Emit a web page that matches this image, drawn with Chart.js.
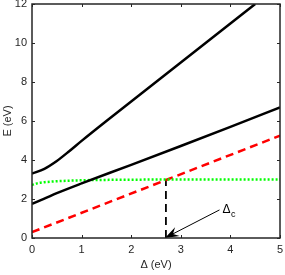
<!DOCTYPE html>
<html>
<head>
<meta charset="utf-8">
<script src="https://cdn.jsdelivr.net/npm/chart.js@4"></script>
<style>
  html, body { margin: 0; padding: 0; background: #fff; }
  #wrap { width: 285px; height: 275px; }
</style>
</head>
<body>
<div id="wrap"><canvas id="myChart"></canvas></div>
<script>
// datos
var deltaUpper = [0, 0.25, 0.5, 0.75, 1, 1.5, 2, 2.5, 3, 3.5, 4, 4.5];
var eUpper     = [3.3, 3.55, 3.95, 4.45, 4.98, 6.0, 7.0, 8.0, 9.0, 10.0, 11.0, 12.0];

var deltaLower = [0, 0.25, 0.5, 1, 2, 3, 4, 5];
var eLower     = [1.75, 2.02, 2.3, 2.8, 3.75, 4.72, 5.7, 6.7];

var deltaGreen = [0, 0.1, 0.25, 0.5, 0.75, 1, 1.5, 2, 3, 4, 5];
var eGreen     = [2.72, 2.8, 2.86, 2.91, 2.94, 2.96, 2.98, 2.99, 3.0, 3.0, 3.0];

var deltaRed = [0, 5];
var eRed     = [0.3, 5.25];

var deltaC = 2.7;
var eCross = 3.0;

var arrowFrom = [3.78, 1.44];
var arrowTo   = [2.68, 0.0];
var labelPos  = [3.84, 1.45];

var xTicks = [0, 1, 2, 3, 4, 5];
var yTicks = [0, 2, 4, 6, 8, 10, 12];

function puntos(xs, ys){
  return xs.map(function(x, i){ return {x: x, y: ys[i]}; });
}

var fuente = '"Liberation Sans", Arial, sans-serif';

var marco = {
  id: 'marco',
  afterDatasetsDraw: function(chart){
    var ctx = chart.ctx;
    var a = chart.chartArea;
    var xs = chart.scales.x, ys = chart.scales.y;
    ctx.save();
    // flecha
    var x1 = xs.getPixelForValue(arrowFrom[0]), y1 = ys.getPixelForValue(arrowFrom[1]);
    var x2 = xs.getPixelForValue(arrowTo[0]), y2 = ys.getPixelForValue(arrowTo[1]);
    var ang = Math.atan2(y2 - y1, x2 - x1);
    var c = Math.cos(ang), s = Math.sin(ang);
    ctx.strokeStyle = '#000';
    ctx.fillStyle = '#000';
    ctx.lineWidth = 1;
    ctx.beginPath();
    ctx.moveTo(x1, y1);
    ctx.lineTo(x2 - 9 * c, y2 - 9 * s);
    ctx.stroke();
    ctx.beginPath();
    ctx.moveTo(x2, y2);
    ctx.lineTo(x2 - 14 * c + 5 * s, y2 - 14 * s - 5 * c);
    ctx.lineTo(x2 - 9 * c, y2 - 9 * s);
    ctx.lineTo(x2 - 14 * c - 5 * s, y2 - 14 * s + 5 * c);
    ctx.closePath();
    ctx.fill();
    // etiqueta
    var lx = xs.getPixelForValue(labelPos[0]), ly = ys.getPixelForValue(labelPos[1]);
    ctx.textBaseline = 'middle';
    ctx.textAlign = 'left';
    ctx.font = '12px ' + fuente;
    ctx.fillText('\u0394', lx, ly);
    var w = ctx.measureText('\u0394').width;
    ctx.font = '9px ' + fuente;
    ctx.fillText('c', lx + w + 0.5, ly + 5);
    // caja
    ctx.strokeStyle = '#262626';
    ctx.lineWidth = 1.5;
    ctx.strokeRect(a.left, a.top, a.right - a.left, a.bottom - a.top);
    ctx.lineWidth = 1;
    xTicks.forEach(function(t){
      var px = Math.round(xs.getPixelForValue(t)) + 0.5;
      ctx.beginPath();
      ctx.moveTo(px, a.bottom); ctx.lineTo(px, a.bottom - 3);
      ctx.moveTo(px, a.top); ctx.lineTo(px, a.top + 3);
      ctx.stroke();
    });
    yTicks.forEach(function(t){
      var py = Math.round(ys.getPixelForValue(t)) + 0.5;
      ctx.beginPath();
      ctx.moveTo(a.left, py); ctx.lineTo(a.left + 3, py);
      ctx.moveTo(a.right, py); ctx.lineTo(a.right - 3, py);
      ctx.stroke();
    });
    ctx.restore();
  }
};

var data = {
  datasets: [
    {
      label: 'superior',
      data: puntos(deltaUpper, eUpper),
      borderColor: '#000',
      borderWidth: 2.5,
      cubicInterpolationMode: 'monotone'
    },
    {
      label: 'inferior',
      data: puntos(deltaLower, eLower),
      borderColor: '#000',
      borderWidth: 2.5,
      cubicInterpolationMode: 'monotone'
    },
    {
      label: 'verde',
      data: puntos(deltaGreen, eGreen),
      borderColor: '#00ff00',
      borderWidth: 2.5,
      borderDash: [2, 2],
      cubicInterpolationMode: 'monotone'
    },
    {
      label: 'roja',
      data: puntos(deltaRed, eRed),
      borderColor: '#ff0000',
      borderWidth: 2.5,
      borderDash: [8, 5]
    },
    {
      label: 'vertical',
      data: puntos([deltaC, deltaC], [0, eCross]),
      borderColor: '#000',
      borderWidth: 1.8,
      borderDash: [8, 5]
    }
  ]
};

var config = {
  type: 'line',
  data: data,
  options: {
    responsive: true,
    maintainAspectRatio: false,
    animation: false,
    layout: { padding: { top: 4, right: 5, left: 0, bottom: 0 } },
    elements: { point: { radius: 0 }, line: { tension: 0 } },
    plugins: { legend: { display: false }, tooltip: { enabled: false } },
    scales: {
      x: {
        type: 'linear', min: 0, max: 5,
        grid: { display: false, drawTicks: false },
        border: { display: false },
        afterBuildTicks: function(s){ s.ticks = xTicks.map(function(v){ return {value: v}; }); },
        afterFit: function(s){ s.height = 37; s.paddingLeft = 0; s.paddingRight = 0; },
        ticks: { color: '#262626', font: { size: 11, family: fuente }, padding: 5, maxRotation: 0 },
        title: { display: true, text: '\u0394 (eV)', color: '#262626', font: { size: 11, family: fuente }, padding: { top: 2, bottom: 3 } }
      },
      y: {
        min: 0, max: 12,
        grid: { display: false, drawTicks: false },
        border: { display: false },
        afterBuildTicks: function(s){ s.ticks = yTicks.map(function(v){ return {value: v}; }); },
        afterFit: function(s){ s.width = 32; s.paddingTop = 0; s.paddingBottom = 0; },
        ticks: { color: '#262626', font: { size: 11, family: fuente }, padding: 5 },
        title: { display: true, text: 'E (eV)', color: '#262626', font: { size: 11, family: fuente }, padding: { top: 1, bottom: 2 } }
      }
    }
  },
  plugins: [marco]
};

var g_principal = document.getElementById('myChart');
var myChart = new Chart(g_principal, config);
</script>
</body>
</html>
